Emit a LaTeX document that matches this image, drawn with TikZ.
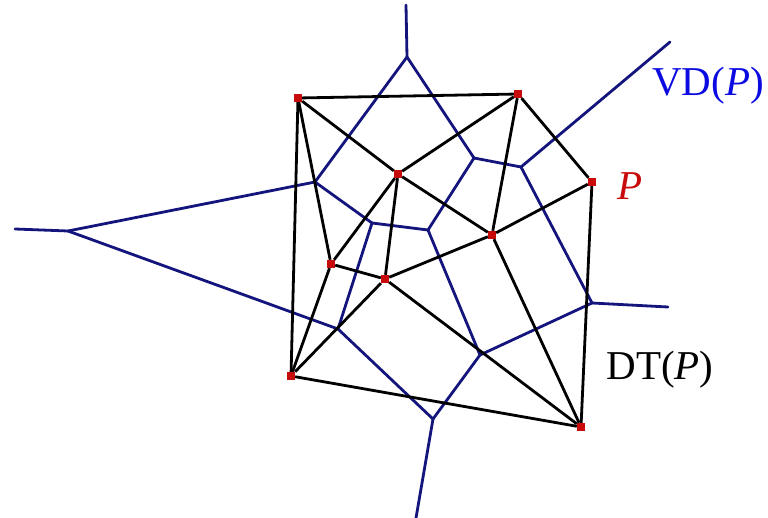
\documentclass[tikz,border=0pt]{standalone}
\usepackage{fontspec}
\setmainfont{Liberation Serif}
\definecolor{vdline}{RGB}{20,20,125}
\definecolor{vdtext}{RGB}{10,10,225}
\definecolor{sitered}{RGB}{200,10,10}

\begin{document}
\begin{tikzpicture}[x=1pt,y=-1pt,
  site/.style={rectangle,fill=sitered,inner sep=0pt,minimum size=8pt},
  vd/.style={draw=vdline,line width=2.8pt,line cap=round},
  dt/.style={draw=black,line width=2.8pt},
  lab/.style={font=\fontsize{41}{46}\selectfont,inner sep=0pt}]
\useasboundingbox (0,0) rectangle (768,518);
% Voronoi vertices and free ends of the rays
\foreach \v/\x/\y in {v1/407/57,v2/315/182,v3/68/231,v4/474/158,v5/521/167,%
   v6/372/223,v7/428/230,v8/592/303,v9/480/355,v10/338/329,v11/433/419,%
   r1/406/5,r2/15/229,r3/670/42,r4/668/307,r5/416/518} {
   \coordinate (\v) at (\x,\y);
}
\foreach \a/\b in {v1/v2,v1/v4,v1/r1,v2/v3,v2/v6,v3/v10,v3/r2,v4/v5,v4/v7,%
   v5/v8,v5/r3,v6/v7,v6/v10,v7/v9,v8/v9,v8/r4,v9/v11,v10/v11,v11/r5} {
   \draw[vd] (\a) -- (\b);
}
% sites
\foreach \n/\x/\y in {A/298/98,B/518/94,C/398/174,D/592/182,E/492/235,%
   F/331/264,G/385/279,H/291/376,I/581/427} {
   \node[site] (\n) at (\x,\y) {};
}
\foreach \a/\b in {A/B,A/C,A/F,A/H,B/C,B/E,B/D,C/F,C/G,C/E,D/E,D/I,%
   E/G,E/I,F/G,F/H,G/H,G/I,H/I} {
   \draw[dt] (\a) -- (\b);
}
% labels
\node[lab,text=vdtext] (vdlab) at (708,86) {VD(\textit{P})};
\node[lab,text=sitered] (plab) at (630,186) {\textit{P}};
\node[lab] (dtlab) at (660,370) {DT(\textit{P})};
\end{tikzpicture}
\end{document}
